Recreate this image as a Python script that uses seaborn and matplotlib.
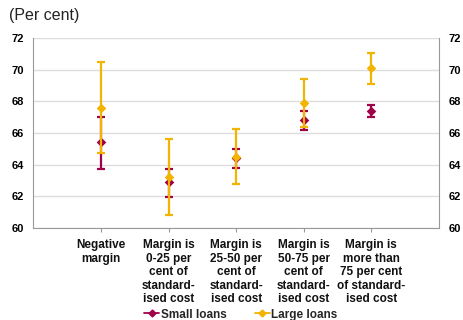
import numpy as np
import pandas as pd
import seaborn as sns
import matplotlib
matplotlib.use("Agg")
import matplotlib.pyplot as plt
from matplotlib.lines import Line2D

categories = [
    "Negative\nmargin",
    "Margin is\n0-25 per\ncent of\nstandard-\nised cost",
    "Margin is\n25-50 per\ncent of\nstandard-\nised cost",
    "Margin is\n50-75 per\ncent of\nstandard-\nised cost",
    "Margin is\nmore than\n75 per cent\nof standard-\nised cost",
]
small_mid = [65.4, 62.9, 64.4, 66.8, 67.4]
small_low = [63.75, 61.98, 63.81, 66.21, 67.01]
small_high = [67.03, 63.75, 65.0, 67.41, 67.79]
large_mid = [67.6, 63.2, 64.5, 67.9, 70.1]
large_low = [64.76, 60.84, 62.78, 66.36, 69.1]
large_high = [70.48, 65.64, 66.27, 69.41, 71.05]
y_ticks = [60, 62, 64, 66, 68, 70, 72]

SMALL = "#A0004A"
LARGE = "#F2B400"

sns.set_theme(style="white")
plt.rcParams['font.family'] = ['Liberation Sans', 'DejaVu Sans']

fig = plt.figure(figsize=(4.63, 3.2), dpi=100)
ax = fig.add_axes([0.072, 0.2875, 0.876, 0.594])

pos = np.arange(1, len(categories) + 1)

def draw(mid, low, high, color, z):
    mid = np.array(mid); low = np.array(low); high = np.array(high)
    ax.errorbar(pos, mid, yerr=[mid - low, high - mid], fmt="none",
                ecolor=color, elinewidth=1.6, capsize=3.2, capthick=1.6, zorder=z)
    df = pd.DataFrame({"x": pos, "y": mid})
    sns.scatterplot(data=df, x="x", y="y", ax=ax, color=color, marker="D",
                    s=24, linewidth=0, zorder=z + 0.5, legend=False)

draw(small_mid, small_low, small_high, SMALL, 3)
draw(large_mid, large_low, large_high, LARGE, 4)

ax.set_xlim(0, 6)
ax.set_ylim(60, 72)
ax.set_yticks(y_ticks)
ax.set_yticklabels([str(v) for v in y_ticks], fontsize=8, fontweight="bold")
ax.tick_params(axis="y", which="both", left=True, right=True, length=0,
               labelleft=True, labelright=True, pad=7, colors="black")
ax.set_xticks(pos)
ax.set_xticklabels(categories, fontsize=8.5, fontweight="bold", linespacing=1.17)
ax.tick_params(axis="x", bottom=True, length=3, width=0.8, color="#999999",
               pad=5, labelcolor="#111111")
ax.set_xlabel("")
ax.set_ylabel("")
ax.yaxis.grid(True, color="#DDDDDD", linewidth=1.0)
ax.set_axisbelow(True)
for s in ["left", "bottom", "right"]:
    ax.spines[s].set_visible(True)
    ax.spines[s].set_color("#999999")
    ax.spines[s].set_linewidth(0.8)
ax.spines["top"].set_visible(False)

fig.text(0.02, 0.975, "(Per cent)", fontsize=11.5, ha="left", va="top", color="#222222")

handles = [
    Line2D([0], [0], color=SMALL, marker="D", markersize=3.5, linewidth=1.3, label="Small loans"),
    Line2D([0], [0], color=LARGE, marker="D", markersize=3.5, linewidth=1.3, label="Large loans"),
]
leg = fig.legend(handles=handles, loc="lower center", bbox_to_anchor=(0.52, -0.035), ncol=2,
                 frameon=False, handlelength=1.3, handletextpad=0.1, columnspacing=2.4,
                 prop={"size": 8.5, "weight": "bold"})

fig.savefig("out.png", dpi=100)
